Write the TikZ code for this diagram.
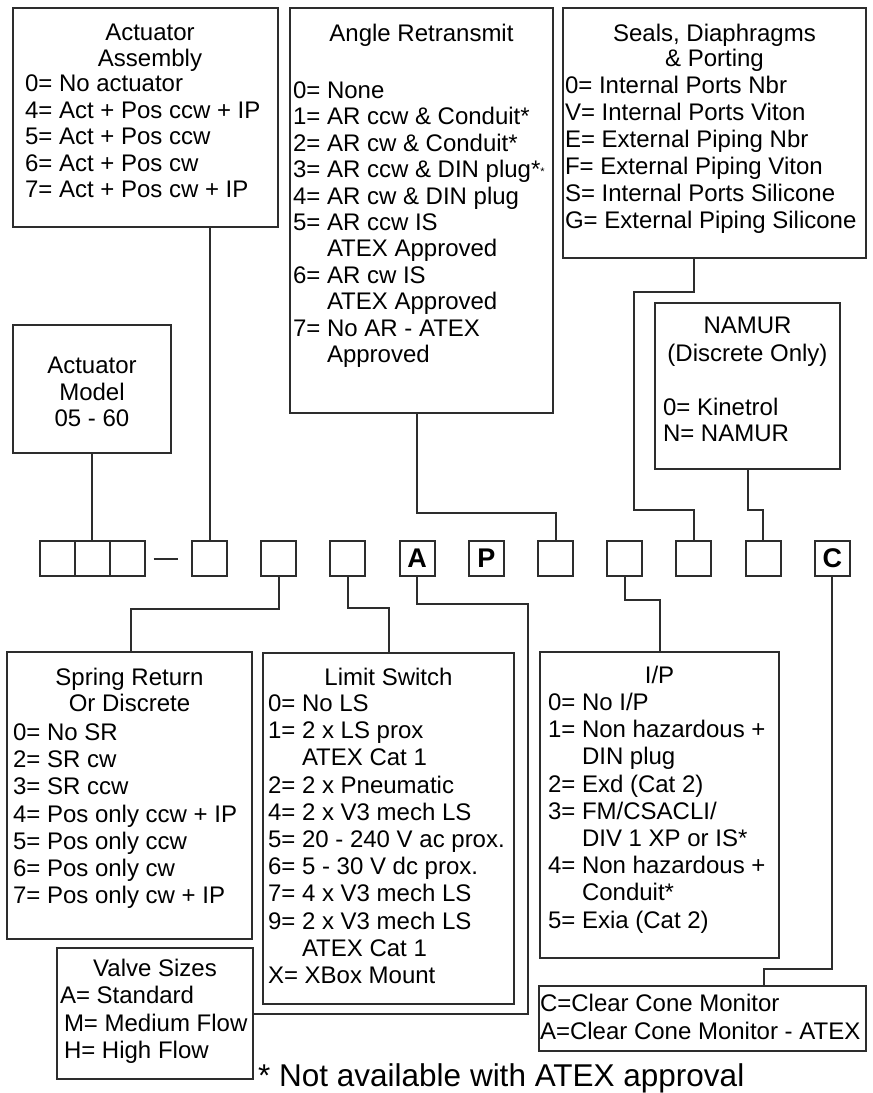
\documentclass[tikz,border=0pt]{standalone}
\usepackage{fontspec}
\setmainfont{Liberation Sans}
\usetikzlibrary{fit,calc}
\definecolor{lc}{RGB}{45,45,45}
\newcommand\fz[1]{\fontsize{24}{#1}\selectfont}
\begin{document}
\begin{tikzpicture}[x=1pt,y=-1pt,
  bx/.style={draw=lc, line width=2pt, rectangle, inner sep=0pt, outer sep=0pt},
  conn/.style={draw=lc, line width=2pt},
  tl/.style={inner sep=0pt, outer sep=0pt, align=center, anchor=north},
  ll/.style={inner sep=0pt, outer sep=0pt, align=left, anchor=north west},
  sq/.style={draw=lc, line width=2pt, rectangle, minimum width=35pt, minimum height=35pt, inner sep=0pt, outer sep=0pt, font=\bfseries\fontsize{27}{27}\selectfont},
]
\useasboundingbox (0,0) rectangle (873,1093);

% ---------- upper boxes ----------
\node[bx, fit={(13,8) (278,227)}] (aa) {};
\node[tl, font=\fz{25.5}] (aat) at (150,22.65) {\strut Actuator\\Assembly};
\node[ll, font=\fz{26.6}] (aal) at (25,72.9) {\strut 0= No actuator\\4= Act + Pos ccw + IP\\5= Act + Pos ccw\\6= Act + Pos cw\\7= Act + Pos cw + IP};

\node[bx, fit={(290,8) (553,413)}] (ar) {};
\node[tl, font=\fz{26.6}] (art) at (421.5,22.9) {\strut Angle Retransmit};
\node[ll, font=\fz{26.4}] (arl) at (293,80) {\strut 0= None\\1= AR ccw \& Conduit*\\2= AR cw \& Conduit*\\3= AR ccw \& DIN plug*{\fontsize{11}{11}\selectfont\raisebox{2pt}{*}}\\4= AR cw \& DIN plug\\5= AR ccw IS\\\hspace*{34pt}ATEX Approved\\6= AR cw IS\\\hspace*{34pt}ATEX Approved\\7= No AR - ATEX\\\hspace*{34pt}Approved};

\node[bx, fit={(563,8) (866,258)}] (sd) {};
\node[tl, font=\fz{25}] (sdt) at (714.5,24) {\strut Seals, Diaphragms\\\& Porting};
\node[ll, font=\fz{27}] (sdl) at (565,74.6) {\strut 0= Internal Ports Nbr\\V= Internal Ports Viton\\E= External Piping Nbr\\F= External Piping Viton\\S= Internal Ports Silicone\\G= External Piping Silicone};

\node[bx, fit={(655,303) (840,469)}] (nm) {};
\node[tl, font=\fz{28}] (nmt) at (747.5,313.9) {\strut NAMUR\\(Discrete Only)};
\node[ll, font=\fz{26}] (nml) at (663,397.3) {\strut 0= Kinetrol\\N= NAMUR};

\node[bx, fit={(13,325) (171,453)}] (am) {};
\node[tl, font=\fz{26.5}] (amt) at (92,354.95) {\strut Actuator\\Model\\05 - 60};

% ---------- code row ----------
\node[sq] (b1) at (57,558.5) {};
\node[sq] (b2) at (92,558.5) {};
\node[sq] (b3) at (127,558.5) {};
\node[sq] (b4) at (209.5,558.5) {};
\node[sq] (b5) at (278.7,558.5) {};
\node[sq] (b6) at (347.9,558.5) {};
\node[sq] (bA) at (417.1,558.5) {A};
\node[sq] (bP) at (486.3,558.5) {P};
\node[sq] (b9) at (555.5,558.5) {};
\node[sq] (b10) at (624.7,558.5) {};
\node[sq] (b11) at (693.9,558.5) {};
\node[sq] (b12) at (763.1,558.5) {};
\node[sq] (bC) at (832.3,558.5) {C};
\draw[conn] ($(b3.east)+(9,0)$) -- ($(b4.west)+(-14,0)$);

% ---------- lower boxes ----------
\node[bx, fit={(7,652) (252,939)}] (sr) {};
\node[tl, font=\fz{26}] (srt) at (129.5,667.3) {\strut Spring Return\\Or Discrete};
\node[ll, font=\fz{27.2}] (srl) at (13,721.46) {\strut 0= No SR\\2= SR cw\\3= SR ccw\\4= Pos only ccw + IP\\5= Pos only ccw\\6= Pos only cw\\7= Pos only cw + IP};

\node[bx, fit={(263,653) (514,1004)}] (ls) {};
\node[tl, font=\fz{27.2}] (lst) at (388.5,666.46) {\strut Limit Switch};
\node[ll, font=\fz{27.2}] (lsl) at (268,692.46) {\strut 0= No LS\\1= 2 x LS prox\\\hspace*{34pt}ATEX Cat 1\\2= 2 x Pneumatic\\4= 2 x V3 mech LS\\5= 20 - 240 V ac prox.\\6= 5 - 30 V dc prox.\\7= 4 x V3 mech LS\\9= 2 x V3 mech LS\\\hspace*{34pt}ATEX Cat 1\\X= XBox Mount};

\node[bx, fit={(540,652) (779,958)}] (ip) {};
\node[tl, font=\fz{27.2}] (ipt) at (659.5,664.46) {\strut I/P};
\node[ll, font=\fz{27.2}] (ipl) at (548,691.46) {\strut 0= No I/P\\1= Non hazardous +\\\hspace*{34pt}DIN plug\\2= Exd (Cat 2)\\3= FM/CSACLI/\\\hspace*{34pt}DIV 1 XP or IS*\\4= Non hazardous +\\\hspace*{34pt}Conduit*\\5= Exia (Cat 2)};

\node[bx, fit={(57,948) (253,1079)}] (vs) {};
\node[tl, font=\fz{27.5}] (vst) at (155,957.25) {\strut Valve Sizes};
\node[ll, font=\fz{27.5}] (vsl) at (60,984.25) {\strut A= Standard\\\hspace*{4pt}M= Medium Flow\\\hspace*{4pt}H= High Flow};

\node[bx, fit={(539,986) (866,1051)}] (cc) {};
\node[ll, font=\fz{28}] (ccl) at (540,991.5) {\strut C=Clear Cone Monitor\\A=Clear Cone Monitor - ATEX};

\node[inner sep=0pt, anchor=base west, font=\fontsize{31.5}{34}\selectfont] (fn) at (258,1086) {* Not available with ATEX approval};

% ---------- connectors ----------
\draw[conn] (am.south) -- (b2.north);
\draw[conn] (aa.south -| b4.north) -- (b4.north);
\coordinate (arj) at (417.1,513);
\draw[conn] (ar.south -| arj) -- (arj) -| (b9.north);
\coordinate (sdj1) at (634,292);
\coordinate (sdj2) at (634,510);
\draw[conn] (sd.south -| b11.north) -- (sdj1 -| b11.north) -- (sdj1) -- (sdj2) -- (sdj2 -| b11.north) -- (b11.north);
\coordinate (nmj) at (747.5,510);
\draw[conn] (nm.south) -- (nmj) -| (b12.north);
\coordinate (srj) at (131,609);
\draw[conn] (b5.south) |- (srj) -- (srj |- sr.north);
\coordinate (lsj) at (388.5,608);
\draw[conn] (b6.south) |- (lsj) -- (ls.north);
\coordinate (aj) at (528,604);
\draw[conn] (bA.south) |- (aj) |- (vs.east);
\coordinate (ipj) at (659.5,600);
\draw[conn] (b10.south) |- (ipj) -- (ip.north);
\coordinate (ccj) at (764,969);
\draw[conn] (bC.south) |- (ccj) -- (ccj |- cc.north);
\end{tikzpicture}
\end{document}
